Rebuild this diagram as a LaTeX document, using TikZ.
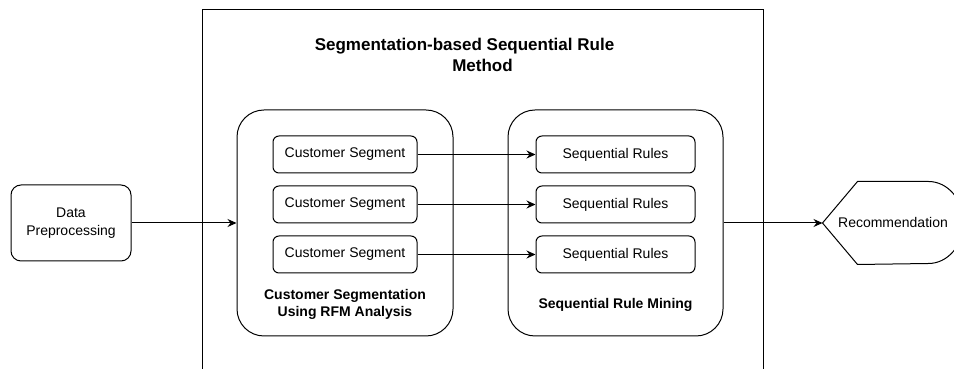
\documentclass[tikz,border=0pt]{standalone}
\usepackage{fontspec}
\setmainfont{Liberation Sans}
\usetikzlibrary{arrows.meta}
\begin{document}
\begin{tikzpicture}[x=1pt,y=1pt,
  line width=1pt,
  box/.style={draw, rounded corners=#1, inner sep=0pt, align=center, font=\fontsize{14}{17.5}\selectfont},
  box/.default=6pt,
  grp/.style={draw, rounded corners=27pt, inner sep=0pt, minimum width=216pt, minimum height=226pt},
  lbl/.style={inner sep=0pt, align=center, font=\bfseries\fontsize{14}{17}\selectfont},
  arr/.style={-{Stealth[length=9pt,width=8pt,inset=3pt]}}]
\useasboundingbox (0,0) rectangle (954,369);
\clip (0,0) rectangle (954,369);
% outer box
\coordinate (obl) at (202,-5);
\coordinate (otl) at (202,359);
\coordinate (otr) at (763,359);
\coordinate (obr) at (763,-5);
\draw (obl) -- (otl) -- (otr) -- (obr);
\node[inner sep=0pt, align=center, font=\bfseries\fontsize{17}{21.5}\selectfont] (title) at (482.5,314)
  {Segmentation-based Sequential Rule\hspace*{36pt}\\Method};
% data preprocessing
\node[box=10pt, minimum width=120pt, minimum height=76pt] (dp) at (71,146) {Data\\Preprocessing};
% groups
\node[grp] (lg) at (345,146) {};
\node[grp, minimum width=215pt] (rg) at (615.5,146) {};
\node[lbl] (lgl) at (345,64.5) {Customer Segmentation\\Using RFM Analysis};
\node[lbl] (rgl) at (615.5,64) {Sequential Rule Mining};
% customer segments
\node[box, minimum width=144pt, minimum height=37pt] (cs1) at (345,214.5) {Customer Segment};
\node[box, minimum width=144pt, minimum height=37pt] (cs2) at (345,164.5) {Customer Segment};
\node[box, minimum width=144pt, minimum height=37pt] (cs3) at (345,114.5) {Customer Segment};
% sequential rules
\node[box, minimum width=159pt, minimum height=37pt] (sr1) at (615.5,214.5) {Sequential Rules};
\node[box, minimum width=159pt, minimum height=37pt] (sr2) at (615.5,164.5) {Sequential Rules};
\node[box, minimum width=159pt, minimum height=37pt] (sr3) at (615.5,114.5) {Sequential Rules};
% recommendation
\node[inner sep=0pt, minimum width=140pt, minimum height=82pt, font=\fontsize{14}{17}\selectfont] (rec) at (893,146) {Recommendation};
\draw (rec.west) -- ([xshift=35pt]rec.north west) -- ([xshift=-35pt]rec.north east)
  arc[start angle=90, end angle=-90, x radius=35pt, y radius=41pt]
  -- ([xshift=35pt]rec.south west) -- cycle;
% connectors
\draw[arr] (dp.east) -- (lg.west);
\draw[arr] (cs1) -- (sr1);
\draw[arr] (cs2) -- (sr2);
\draw[arr] (cs3) -- (sr3);
\draw[arr] (rg.east) -- (rec.west);
\end{tikzpicture}
\end{document}
